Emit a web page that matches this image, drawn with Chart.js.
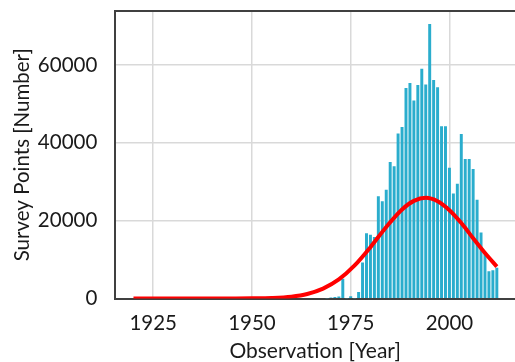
<!DOCTYPE html>
<html><head><meta charset="utf-8">
<script src="https://cdn.jsdelivr.net/npm/chart.js@4.4.1/dist/chart.umd.min.js"></script>
<style>html,body{margin:0;padding:0;background:#fff;overflow:hidden}#wrap{width:515px;height:362px;position:relative}</style>
</head><body><div id="wrap"><canvas id="c" width="515" height="362"></canvas></div>
<script>
// Bars: survey points per year
const barYears = [1969,1970,1971,1972,1973,1974,1975,1976,1977,1978,1979,1980,1981,1982,1983,1984,1985,1986,1987,1988,1989,1990,1991,1992,1993,1994,1995,1996,1997,1998,1999,2000,2001,2002,2003,2004,2005,2006,2007,2008,2009,2010,2011,2012];
const barValues = [0,200,300,400,5000,0,500,0,1600,9200,16700,16300,15700,26200,24900,27900,35000,33900,42300,44000,54000,55300,50800,54800,59000,54900,70500,56100,54200,44200,44200,33500,26900,29400,42200,35800,35800,33200,25300,16900,11600,6900,7200,7800];
// Red fitted curve, read at selected years
const fitYears = [1920,1930,1940,1945,1950,1955,1960,1964,1968,1972,1976,1980,1984,1988,1991,1994,1997,2000,2003,2006,2009,2012];
const fitValues = [0,0,0,10,40,140,480,1170,2550,4900,8500,13200,18400,22900,25100,25900,25000,22700,19400,15500,11700,8200];
// Tick labels
const xTicks = [1925,1950,1975,2000];
const yTicks = [0,20000,40000,60000];
const xTitle = 'Observation [Year]';
const yTitle = 'Survey Points [Number]';

const FONT = 'Lato';
const topBorder = {
  id: 'topBorder',
  afterDraw(chart) {
    const {ctx, chartArea: a} = chart;
    ctx.save();
    ctx.strokeStyle = '#404040';
    ctx.lineWidth = 2;
    ctx.beginPath();
    ctx.moveTo(a.left - 1, a.top);
    ctx.lineTo(a.right, a.top);
    ctx.stroke();
    ctx.restore();
  }
};

new Chart(document.getElementById('c'), {
  type: 'bar',
  data: {
    datasets: [
      {
        type: 'line',
        data: fitYears.map((x, i) => ({x, y: fitValues[i]})),
        borderColor: '#ff0000',
        borderWidth: 4,
        pointRadius: 0,
        tension: 0.4,
        cubicInterpolationMode: 'monotone',
        fill: false,
        order: 0
      },
      {
        type: 'bar',
        data: barYears.map((x, i) => ({x, y: barValues[i]})),
        backgroundColor: '#2aadcd',
        borderWidth: 0,
        barThickness: 2.3,
        order: 1
      }
    ]
  },
  options: {
    responsive: false,
    animation: false,
    devicePixelRatio: 1,
    layout: {padding: {top: 11, left: 0, right: 0, bottom: 0}},
    plugins: {legend: {display: false}, tooltip: {enabled: false}},
    scales: {
      x: {
        type: 'linear',
        offset: false,
        min: 1915.4,
        max: 2016.6,
        afterBuildTicks: s => { s.ticks = xTicks.map(v => ({value: v})); },
        afterFit: s => { s.height = 63.5; s.paddingLeft = 0; s.paddingRight = 0; },
        ticks: {font: {family: FONT, size: 20.5}, color: '#1a1a1a', padding: 13, maxRotation: 0, callback: v => String(v)},
        grid: {color: '#d9d9d9', lineWidth: 1.5, drawTicks: false, offset: false},
        border: {color: '#404040', width: 2},
        title: {display: true, text: xTitle, font: {family: FONT, size: 21, lineHeight: 1}, color: '#1a1a1a', padding: {top: 0, bottom: 0}}
      },
      y: {
        min: 0,
        max: 73900,
        afterBuildTicks: s => { s.ticks = yTicks.map(v => ({value: v})); },
        afterFit: s => { s.width = 115.3; s.paddingTop = 0; s.paddingBottom = 0; },
        ticks: {font: {family: FONT, size: 20.5}, color: '#1a1a1a', padding: 18, callback: v => String(v)},
        grid: {color: '#d9d9d9', lineWidth: 1.5, drawTicks: false},
        border: {color: '#404040', width: 2},
        title: {display: true, text: yTitle, font: {family: FONT, size: 20.5, lineHeight: 1.2}, color: '#1a1a1a', padding: {top: 10, bottom: 0}}
      }
    }
  },
  plugins: [topBorder]
});
</script></body></html>
